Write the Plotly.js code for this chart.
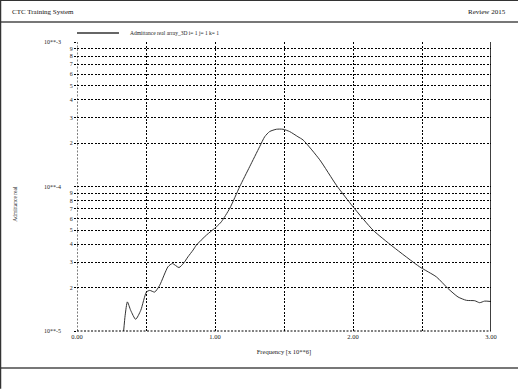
<!DOCTYPE html>
<html>
<head>
<meta charset="utf-8">
<script src="https://cdn.plot.ly/plotly-3.0.1.min.js"></script>
<style>html,body{margin:0;padding:0;background:#fff;}#chart{width:518px;height:389px;}</style>
</head>
<body>
<div id="chart"></div>
<script>
// Frequency [x 10**6]
const freq = [0.338,0.349,0.365,0.389,0.425,0.462,0.503,0.527,0.563,0.599,0.659,0.691,0.739,0.773,0.804,0.841,0.865,0.938,1.010,1.046,1.107,1.179,1.251,1.324,1.360,1.396,1.445,1.493,1.541,1.601,1.638,1.759,1.880,2.000,2.145,2.290,2.483,2.604,2.688,2.761,2.822,2.882,2.918,2.954,3.000];
// Admittance real
const admittance = [1.0e-5,1.285e-5,1.59e-5,1.39e-5,1.205e-5,1.39e-5,1.86e-5,1.91e-5,1.86e-5,2.07e-5,2.78e-5,2.93e-5,2.75e-5,2.95e-5,3.26e-5,3.63e-5,3.93e-5,4.61e-5,5.26e-5,5.70e-5,7.06e-5,9.97e-5,1.37e-4,1.89e-4,2.21e-4,2.40e-4,2.49e-4,2.49e-4,2.40e-4,2.21e-4,2.10e-4,1.53e-4,1.02e-4,7.24e-5,4.99e-5,3.83e-5,2.78e-5,2.37e-5,1.97e-5,1.72e-5,1.63e-5,1.62e-5,1.57e-5,1.61e-5,1.60e-5];

const xTickVals = [0, 0.5, 1, 1.5, 2, 2.5, 3];
const xTickText = ["0.00", "", "1.00", "", "2.00", "", "3.00"];
const decades = [-5, -4, -3];
const decadeLabels = ["10**-5", "10**-4", "10**-3"];
const minorLabels = ["", "2", "3", "4", "5", "6", "7", "8", "9"];

const seriesName = "Admittance real array_3D i= 1 j= 1 k= 1";
const headerLeft = "CTC Training System";
const headerRight = "Review 2015";
const xTitle = "Frequency [x 10**6]";
const yTitle = "Admittance real";

const yTickVals = [], yTickText = [];
decades.forEach(function(d, i){
  if (i === decades.length - 1) { yTickVals.push(Math.pow(10, d)); yTickText.push(""); return; }
  minorLabels.forEach(function(lab, k){ yTickVals.push((k + 1) * Math.pow(10, d)); yTickText.push(lab); });
});

const FONT = "Liberation Serif, Times New Roman, serif";
const TXT = "#222";
const DOT = "2px,1.5px";

const annotations = [
  {text: headerLeft, xref: "paper", yref: "paper", x: -0.1618, y: 1.1038, xanchor: "left", yanchor: "middle", showarrow: false, font: {family: FONT, size: 7, color: "#111"}},
  {text: headerRight, xref: "paper", yref: "paper", x: 1.0411, y: 1.1038, xanchor: "right", yanchor: "middle", showarrow: false, font: {family: FONT, size: 7, color: "#111"}},
  {text: seriesName, xref: "paper", yref: "paper", x: 0.1232, y: 1.031, xanchor: "left", yanchor: "middle", showarrow: false, font: {family: FONT, size: 5.5, color: TXT}},
  {text: yTitle, xref: "paper", yref: "paper", x: -0.1498, y: 0.44, xanchor: "center", yanchor: "middle", textangle: -90, showarrow: false, font: {family: FONT, size: 5.5, color: TXT}}
];
decades.forEach(function(d, i){
  annotations.push({text: decadeLabels[i], xref: "paper", yref: "y", x: -0.0338, y: d, xanchor: "right", yanchor: "middle", showarrow: false, font: {family: FONT, size: 6, color: TXT}});
});

const shapes = [
  // header separator
  {type: "line", xref: "paper", yref: "paper", x0: -0.186, x1: 1.0652, y0: 1.0692, y1: 1.0692, line: {color: "#777", width: 2}},
  // footer separator
  {type: "line", xref: "paper", yref: "paper", x0: -0.186, x1: 1.0652, y0: -0.128, y1: -0.128, line: {color: "#777", width: 2}},
  // outer frame left / top
  {type: "line", xref: "paper", yref: "paper", x0: -0.1848, x1: -0.1848, y0: -0.2, y1: 1.15, line: {color: "#333", width: 1.5}},
  {type: "line", xref: "paper", yref: "paper", x0: -0.186, x1: 1.0652, y0: 1.1443, y1: 1.1443, line: {color: "#333", width: 1.5}},
  // left dotted axis and bottom dotted axis
  {type: "line", xref: "x", yref: "paper", x0: 0, x1: 0, y0: 0, y1: 1, line: {color: "#000", width: 1, dash: DOT}},
  {type: "line", xref: "paper", yref: "paper", x0: 0, x1: 1, y0: 0, y1: 0, line: {color: "#000", width: 1, dash: DOT}},
  // right frame of plot
  {type: "line", xref: "x", yref: "paper", x0: 3, x1: 3, y0: 0, y1: 1, line: {color: "#000", width: 1.5}},
  // legend sample
  {type: "line", xref: "paper", yref: "paper", x0: 0, x1: 0.1014, y0: 1.031, y1: 1.031, line: {color: "#666", width: 2}}
];

const trace = {
  x: freq, y: admittance, type: "scatter", mode: "lines", name: seriesName,
  line: {color: "#333", width: 1, shape: "spline", smoothing: 0.6},
  showlegend: false, cliponaxis: true
};

const layout = {
  width: 518, height: 389,
  margin: {l: 77, r: 27, t: 42, b: 58},
  paper_bgcolor: "#fff", plot_bgcolor: "#fff",
  showlegend: false,
  xaxis: {
    range: [0, 3], tickmode: "array", tickvals: xTickVals, ticktext: xTickText,
    showgrid: true, gridcolor: "#000", gridwidth: 1, griddash: DOT,
    zeroline: false, showline: false, ticks: "",
    tickfont: {family: FONT, size: 6.5, color: TXT},
    title: {text: xTitle, font: {family: FONT, size: 6.5, color: TXT}, standoff: 10}
  },
  yaxis: {
    type: "log", range: [-5, -3], tickmode: "array", tickvals: yTickVals, ticktext: yTickText,
    showgrid: true, gridcolor: "#000", gridwidth: 1, griddash: DOT,
    zeroline: false, showline: false, ticks: "outside", ticklen: 2, tickcolor: "#000",
    tickfont: {family: FONT, size: 6, color: TXT}
  },
  annotations: annotations,
  shapes: shapes
};

Plotly.newPlot("chart", [trace], layout, {displayModeBar: false, staticPlot: true});
</script>
</body>
</html>
